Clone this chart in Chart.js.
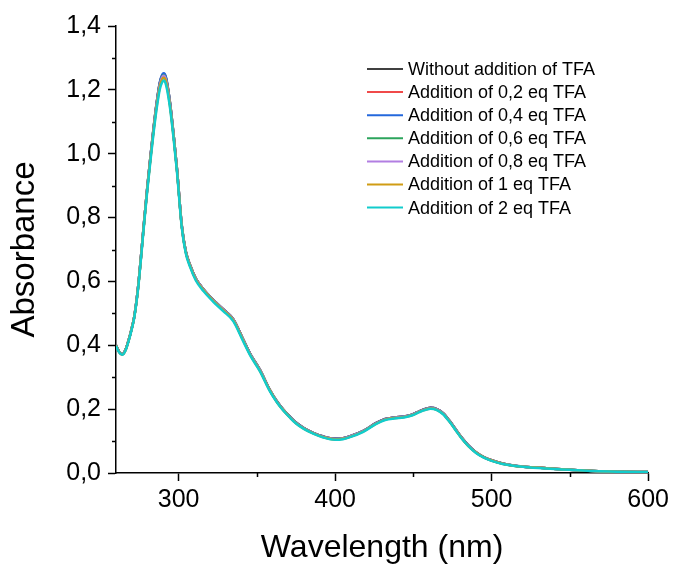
<!DOCTYPE html>
<html>
<head>
<meta charset="utf-8">
<script src="https://cdn.jsdelivr.net/npm/chart.js@4.4.1/dist/chart.umd.min.js"></script>
<style>
  html, body { margin: 0; padding: 0; background: #fff; }
  #wrap { width: 673px; height: 565px; }
</style>
</head>
<body>
<div id="wrap"><canvas id="uvChart" width="673" height="565"></canvas></div>
<script>
// wavelengths (nm) shared by all spectra
const wavelengths = [260,262,264,266,268,270,271.5,273,274.5,276,278,280,282,284,286,288,289.5,290.5,292,294.5,
  297,299,302,304.5,307.5,311,316,322,328.5,335,341,346,352,358,363,367,371,375,380,386,
  392,400,405,410,418,426,432,438,444,449,454,458,461,465,469,473,477,481,485,490,
  495,500,507,515,525,535,550,565,580,600];

const absNoTFA = [0.400,0.380,0.372,0.385,0.415,0.452,0.485,0.535,0.600,0.680,0.790,0.895,0.990,1.080,1.160,1.222,1.245,1.250,1.236,1.160,
  1.050,0.950,0.776,0.696,0.649,0.609,0.575,0.543,0.513,0.481,0.421,0.371,0.323,0.263,0.223,0.198,0.177,0.158,0.141,0.126,
  0.115,0.107,0.109,0.116,0.132,0.156,0.169,0.174,0.177,0.183,0.194,0.201,0.204,0.200,0.187,0.164,0.137,0.110,0.087,0.065,
  0.050,0.040,0.030,0.023,0.018,0.015,0.010,0.006,0.004,0.003];
const abs02 = [0.400,0.380,0.372,0.385,0.415,0.452,0.485,0.535,0.600,0.680,0.790,0.894,0.989,1.079,1.158,1.220,1.243,1.248,1.234,1.159,
  1.049,0.950,0.776,0.696,0.649,0.609,0.575,0.543,0.513,0.481,0.421,0.371,0.323,0.263,0.223,0.198,0.177,0.158,0.141,0.126,
  0.115,0.107,0.109,0.116,0.132,0.156,0.169,0.174,0.177,0.183,0.194,0.201,0.204,0.200,0.187,0.164,0.137,0.110,0.087,0.065,
  0.050,0.040,0.030,0.023,0.018,0.015,0.010,0.006,0.004,0.003];
const abs04 = [0.400,0.380,0.372,0.385,0.415,0.452,0.485,0.535,0.600,0.680,0.790,0.895,0.991,1.081,1.161,1.224,1.247,1.252,1.238,1.161,
  1.050,0.950,0.776,0.696,0.649,0.609,0.575,0.543,0.513,0.481,0.421,0.371,0.323,0.263,0.223,0.198,0.177,0.158,0.141,0.126,
  0.115,0.107,0.109,0.116,0.132,0.156,0.169,0.174,0.177,0.183,0.194,0.201,0.204,0.200,0.187,0.164,0.137,0.110,0.087,0.065,
  0.050,0.040,0.030,0.023,0.018,0.015,0.010,0.006,0.004,0.003];
const abs06 = [0.400,0.380,0.372,0.385,0.415,0.452,0.485,0.535,0.600,0.679,0.789,0.894,0.988,1.077,1.156,1.218,1.241,1.246,1.232,1.157,
  1.048,0.949,0.775,0.695,0.648,0.608,0.574,0.542,0.512,0.480,0.420,0.370,0.322,0.262,0.222,0.197,0.176,0.157,0.140,0.125,
  0.114,0.106,0.108,0.115,0.131,0.155,0.168,0.173,0.176,0.182,0.193,0.200,0.203,0.199,0.186,0.163,0.136,0.109,0.086,0.064,
  0.049,0.039,0.029,0.023,0.018,0.015,0.010,0.006,0.004,0.003];
const abs08 = [0.400,0.380,0.372,0.385,0.415,0.452,0.485,0.535,0.600,0.679,0.789,0.893,0.987,1.076,1.155,1.216,1.239,1.244,1.230,1.156,
  1.047,0.948,0.775,0.695,0.648,0.608,0.574,0.542,0.512,0.480,0.420,0.370,0.322,0.262,0.222,0.197,0.176,0.157,0.140,0.125,
  0.114,0.106,0.108,0.115,0.131,0.155,0.168,0.173,0.176,0.182,0.193,0.200,0.203,0.199,0.186,0.163,0.136,0.109,0.086,0.064,
  0.049,0.039,0.029,0.023,0.018,0.015,0.010,0.006,0.004,0.003];
const abs1 = [0.399,0.379,0.371,0.384,0.414,0.451,0.484,0.533,0.598,0.677,0.786,0.890,0.983,1.071,1.149,1.210,1.233,1.238,1.224,1.150,
  1.043,0.945,0.773,0.693,0.646,0.606,0.572,0.540,0.510,0.478,0.418,0.368,0.320,0.261,0.221,0.196,0.175,0.156,0.139,0.124,
  0.113,0.105,0.107,0.114,0.130,0.154,0.167,0.172,0.175,0.181,0.192,0.199,0.202,0.198,0.185,0.162,0.135,0.108,0.085,0.064,
  0.049,0.039,0.029,0.022,0.018,0.015,0.010,0.006,0.004,0.003];
const abs2 = [0.398,0.378,0.370,0.383,0.412,0.449,0.482,0.531,0.595,0.674,0.782,0.885,0.977,1.065,1.142,1.202,1.224,1.229,1.215,1.144,
  1.038,0.941,0.770,0.690,0.643,0.603,0.569,0.537,0.507,0.475,0.415,0.366,0.318,0.259,0.220,0.195,0.174,0.155,0.138,0.123,
  0.112,0.104,0.106,0.113,0.129,0.153,0.166,0.171,0.174,0.180,0.191,0.198,0.201,0.197,0.184,0.161,0.134,0.107,0.085,0.063,
  0.048,0.038,0.028,0.022,0.017,0.014,0.010,0.006,0.004,0.003];

const seriesLabels = ['Without addition of TFA','Addition of 0,2 eq TFA','Addition of 0,4 eq TFA','Addition of 0,6 eq TFA',
  'Addition of 0,8 eq TFA','Addition of 1 eq TFA','Addition of 2 eq TFA'];
const seriesValues = [absNoTFA, abs02, abs04, abs06, abs08, abs1, abs2];
const seriesColors = ['#404040','#f04a4a','#2468dc','#2ca45c','#b27ee2','#d09c14','#12cccc'];

const xTicks = [300,350,400,450,500,550,600];
const yTicks = [0,0.1,0.2,0.3,0.4,0.5,0.6,0.7,0.8,0.9,1.0,1.1,1.2,1.3,1.4];

const FONT = 'Arial, "Liberation Sans", sans-serif';

function isMajorX(v) { return Math.round(v) % 100 === 0; }
function isMajorY(v) { return Math.round(v * 10) % 2 === 0; }

// short minor ticks (Chart.js has no minor ticks of its own)
const minorTicks = {
    id: 'minorTicks',
    afterDraw(chart) {
        const ctx = chart.ctx;
        const xs = chart.scales.x, ys = chart.scales.y;
        ctx.save();
        ctx.strokeStyle = '#000';
        ctx.lineWidth = 1.5;
        ctx.beginPath();
        xTicks.filter(v => !isMajorX(v)).forEach(v => {
            const px = Math.round(xs.getPixelForValue(v)) + 0.5;
            ctx.moveTo(px, xs.top);
            ctx.lineTo(px, xs.top + 4);
        });
        yTicks.filter(v => !isMajorY(v)).forEach(v => {
            const py = Math.round(ys.getPixelForValue(v)) + 0.5;
            ctx.moveTo(ys.right, py);
            ctx.lineTo(ys.right - 4, py);
        });
        ctx.stroke();
        ctx.restore();
    }
};

// legend drawn in the upper right of the plot like the original
const boxLegend = {
    id: 'boxLegend',
    afterDraw(chart) {
        const ctx = chart.ctx;
        ctx.save();
        ctx.font = '18px ' + FONT;
        ctx.textBaseline = 'middle';
        ctx.textAlign = 'left';
        chart.data.datasets.forEach((ds, i) => {
            const y = 69 + i * 23.1;
            ctx.strokeStyle = ds.borderColor;
            ctx.lineWidth = 2;
            ctx.beginPath();
            ctx.moveTo(367, y);
            ctx.lineTo(403, y);
            ctx.stroke();
            ctx.fillStyle = '#000';
            ctx.fillText(ds.label, 408, y + 1);
        });
        ctx.restore();
    }
};

const datasets = seriesLabels.map((label, i) => ({
    label: label,
    data: wavelengths.map((w, k) => ({ x: w, y: seriesValues[i][k] })),
    borderColor: seriesColors[i],
    backgroundColor: seriesColors[i],
    borderWidth: 2.5,
    pointRadius: 0,
    cubicInterpolationMode: 'monotone',
    order: seriesLabels.length - i
}));

new Chart(document.getElementById('uvChart').getContext('2d'), {
    type: 'line',
    data: { datasets: datasets },
    options: {
        responsive: false,
        animation: false,
        layout: { padding: { top: 26, right: 24, left: 0, bottom: 0 } },
        plugins: { legend: { display: false }, tooltip: { enabled: false } },
        scales: {
            x: {
                type: 'linear',
                min: 260,
                max: 600,
                afterBuildTicks: s => { s.ticks = xTicks.map(v => ({ value: v })); },
                afterFit: s => { s.height = 92; },
                border: { display: true, color: '#000', width: 1.5 },
                grid: {
                    drawOnChartArea: false,
                    tickLength: 8,
                    tickWidth: 1.5,
                    tickColor: c => isMajorX(c.tick.value) ? '#000' : 'rgba(0,0,0,0)'
                },
                ticks: {
                    color: '#000',
                    font: { family: FONT, size: 25 },
                    padding: 4,
                    maxRotation: 0,
                    autoSkip: false,
                    callback: v => isMajorX(v) ? String(v) : ''
                },
                title: {
                    display: true,
                    text: 'Wavelength (nm)',
                    color: '#000',
                    font: { family: FONT, size: 32, lineHeight: 1 },
                    padding: { top: 0, bottom: 1 }
                }
            },
            y: {
                min: 0,
                max: 1.4,
                afterBuildTicks: s => { s.ticks = yTicks.map(v => ({ value: v })); },
                afterFit: s => { s.width = 116; },
                border: { display: true, color: '#000', width: 1.5 },
                grid: {
                    drawOnChartArea: false,
                    tickLength: 8,
                    tickWidth: 1.5,
                    tickColor: c => isMajorY(c.tick.value) ? '#000' : 'rgba(0,0,0,0)'
                },
                ticks: {
                    color: '#000',
                    font: { family: FONT, size: 25 },
                    padding: 7,
                    autoSkip: false,
                    callback: v => isMajorY(v) ? v.toFixed(1).replace('.', ',') : ''
                },
                title: {
                    display: true,
                    text: 'Absorbance',
                    color: '#000',
                    font: { family: FONT, size: 33, lineHeight: 1 },
                    padding: { top: 8, bottom: 0 }
                }
            }
        }
    },
    plugins: [minorTicks, boxLegend]
});
</script>
</body>
</html>
